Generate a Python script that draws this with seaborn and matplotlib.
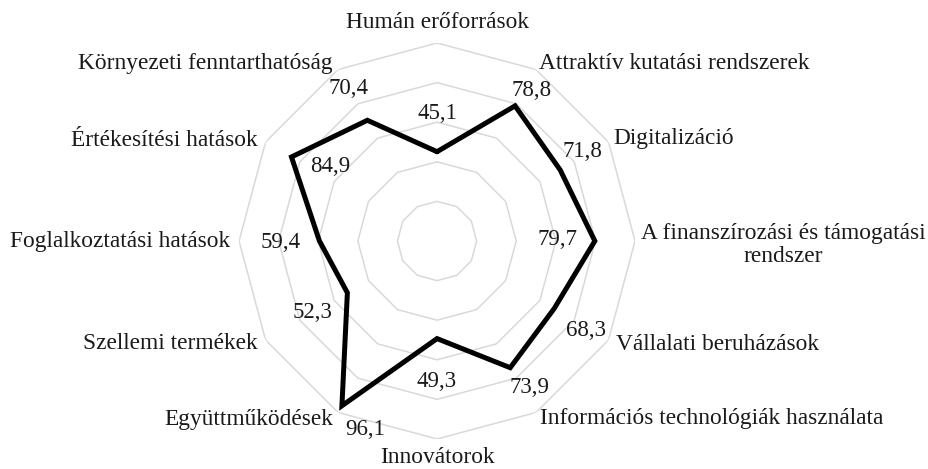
import numpy as np
import pandas as pd
import matplotlib
matplotlib.use('Agg')
import matplotlib.pyplot as plt
import seaborn as sns

# Categories (clockwise from top) and scores
categories = ['Humán erőforrások', 'Attraktív kutatási rendszerek', 'Digitalizáció',
              'A finanszírozási és támogatási\nrendszer', 'Vállalati beruházások',
              'Információs technológiák használata', 'Innovátorok', 'Együttműködések',
              'Szellemi termékek', 'Foglalkoztatási hatások', 'Értékesítési hatások',
              'Környezeti fenntarthatóság']
values = [45.1, 78.8, 71.8, 79.7, 68.3, 73.9, 49.3, 96.1, 52.3, 59.4, 84.9, 70.4]
value_labels = ['45,1', '78,8', '71,8', '79,7', '68,3', '73,9', '49,3', '96,1',
                '52,3', '59,4', '84,9', '70,4']
grid_levels = [20, 40, 60, 80, 100]

# label placement (pixel offsets)
value_offsets = [(0, 38), (17, 15), (22, 18), (-37, 1), (32, -22), (19, -20),
                 (0, -43), (23, -24), (-35, -20), (-39, -2), (39, -10), (-19, 32)]
cat_offsets = [(0, 21, 'center'), (3, 6, 'left'), (5, 4, 'left'), (6, -4, 'left'),
               (7, -5, 'left'), (4, -6, 'left'), (0, -19, 'center'), (-5, -7, 'right'),
               (-8, -4, 'right'), (-9, -1, 'right'), (-8, 2, 'right'), (-5, 6, 'right')]

sns.set_style('white')
plt.rcParams['font.family'] = ['Liberation Serif', 'DejaVu Serif']

n = len(categories)
angles = np.linspace(0, 2 * np.pi, n, endpoint=False)

df = pd.DataFrame({'angle': np.append(angles, 2 * np.pi),
                   'value': values + values[:1]})

fig = plt.figure(figsize=(9.29, 4.69), dpi=100)
ax = fig.add_axes([0.2573, 0.064, 0.4263, 0.8443], projection='polar')
ax.set_theta_zero_location('N')
ax.set_theta_direction(-1)
ax.set_ylim(0, 100)
ax.grid(False)
ax.set_xticks([])
ax.set_yticks([])
ax.spines['polar'].set_visible(False)

# polygon gridlines
ring_angles = np.append(angles, angles[0])
for lvl in grid_levels:
    ax.plot(ring_angles, [lvl] * len(ring_angles), color='#d9d9d9', lw=1.1, zorder=1)

sns.lineplot(data=df, x='angle', y='value', sort=False, color='black', lw=3.6,
             ax=ax, zorder=3)
for l in ax.lines:
    l.set_solid_joinstyle('miter')
ax.set_xlabel('')
ax.set_ylabel('')

for a, v, lab, (dx, dy) in zip(angles, values, value_labels, value_offsets):
    ax.annotate(lab, xy=(a, v), xytext=(dx, dy), textcoords='offset pixels',
                ha='center', va='center', fontsize=16.5, color='#1a1a1a')

for a, cat, (dx, dy, ha) in zip(angles, categories, cat_offsets):
    ax.annotate(cat, xy=(a, 100), xytext=(dx, dy), textcoords='offset pixels',
                ha=ha, va='center', multialignment='center', fontsize=16.8,
                linespacing=1.15, color='#1a1a1a', annotation_clip=False)

plt.savefig('out.png', dpi=100)
